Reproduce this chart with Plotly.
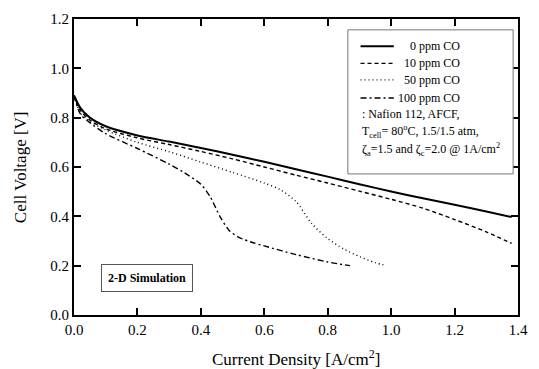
import plotly.graph_objects as go

# ---- data ----
j_0ppm = [0, 0.02, 0.05, 0.1, 0.2, 0.3, 0.4, 0.5, 0.6, 0.7, 0.8, 0.9, 1.0, 1.1, 1.2, 1.3, 1.38]
v_0ppm = [0.89, 0.84, 0.80, 0.765, 0.728, 0.703, 0.677, 0.650, 0.621, 0.591, 0.561, 0.530, 0.501, 0.473, 0.447, 0.420, 0.397]

j_10ppm = [0, 0.02, 0.05, 0.1, 0.2, 0.3, 0.4, 0.5, 0.6, 0.7, 0.8, 0.9, 1.0, 1.1, 1.2, 1.3, 1.38]
v_10ppm = [0.89, 0.83, 0.79, 0.755, 0.718, 0.691, 0.663, 0.633, 0.600, 0.567, 0.535, 0.502, 0.469, 0.433, 0.387, 0.337, 0.290]

j_50ppm = [0, 0.02, 0.05, 0.1, 0.2, 0.3, 0.4, 0.5, 0.6, 0.65, 0.7, 0.75, 0.8, 0.85, 0.9, 0.95, 0.985]
v_50ppm = [0.89, 0.82, 0.785, 0.75, 0.70, 0.662, 0.620, 0.578, 0.535, 0.508, 0.46, 0.37, 0.31, 0.268, 0.237, 0.212, 0.200]

j_100ppm = [0, 0.02, 0.05, 0.1, 0.2, 0.3, 0.35, 0.4, 0.43, 0.46, 0.49, 0.52, 0.56, 0.6, 0.7, 0.8, 0.87]
v_100ppm = [0.89, 0.815, 0.78, 0.735, 0.675, 0.612, 0.575, 0.530, 0.478, 0.40, 0.342, 0.315, 0.295, 0.28, 0.245, 0.215, 0.200]

series_names = ["0 ppm CO", "10 ppm CO", "50 ppm CO", "100 ppm CO"]
x_ticks = [0.0, 0.2, 0.4, 0.6, 0.8, 1.0, 1.2, 1.4]
y_ticks = [0.0, 0.2, 0.4, 0.6, 0.8, 1.0, 1.2]

FONT = "Liberation Serif"
W, H = 539, 369
L, R, T, B = 74, 528, 15, 315


def px(x):
    return (x - L) / (R - L)


def py(y):
    return (B - y) / (B - T)


styles = [
    dict(dash="solid", width=2.0),
    dict(dash="4px,3px", width=1.4),
    dict(dash="1px,3px", width=1.4),
    dict(dash="6px,3px,2px,3px", width=1.4),
]

fig = go.Figure()
for (xs, ys), name, st in zip(
    [(j_0ppm, v_0ppm), (j_10ppm, v_10ppm), (j_50ppm, v_50ppm), (j_100ppm, v_100ppm)],
    series_names, styles):
    fig.add_trace(go.Scatter(x=xs, y=ys, mode="lines", name=name, line_shape="spline",
                             line=dict(color="black", width=st["width"], dash=st["dash"],
                                       smoothing=0.8),
                             showlegend=False))

shapes = []
annotations = []

# legend box
shapes.append(dict(type="rect", xref="paper", yref="paper", x0=px(354), x1=px(523),
                   y0=py(172), y1=py(26), line=dict(color="#777", width=1),
                   fillcolor="white", layer="above"))
rows = [42.7, 60, 76.7, 95]
for yy, name, st in zip(rows, series_names, styles):
    shapes.append(dict(type="line", xref="paper", yref="paper", x0=px(367), x1=px(401),
                       y0=py(yy), y1=py(yy), layer="above",
                       line=dict(color="black", width=st["width"], dash=st["dash"])))
    annotations.append(dict(xref="paper", yref="paper", x=px(471), y=py(yy), text=name,
                            showarrow=False, xanchor="right", yanchor="middle",
                            font=dict(family=FONT, size=12, color="black")))
extra = [": Nafion 112, AFCF,",
         "T<sub>cell</sub>= 80<sup>o</sup>C, 1.5/1.5 atm,",
         "ζ<sub>a</sub>=1.5 and ζ<sub>c</sub>=2.0 @ 1A/cm<sup>2</sup>"]
for yy, t in zip([111.7, 129, 147.5], extra):
    annotations.append(dict(xref="paper", yref="paper", x=px(366), y=py(yy), text=t,
                            showarrow=False, xanchor="left", yanchor="middle",
                            font=dict(family=FONT, size=12, color="black")))

# 2-D Simulation box
annotations.append(dict(xref="paper", yref="paper", x=px(149), y=py(277), text="<b>2-D Simulation</b>",
                        showarrow=False, xanchor="center", yanchor="middle",
                        font=dict(family=FONT, size=12, color="black"),
                        bordercolor="#555", borderwidth=1, borderpad=6, bgcolor="white"))

# axis titles
annotations.append(dict(xref="paper", yref="paper", x=px(301), y=py(359),
                        text="Current Density [A/cm<sup>2</sup>]", showarrow=False,
                        xanchor="center", yanchor="middle",
                        font=dict(family=FONT, size=17, color="black")))
annotations.append(dict(xref="paper", yref="paper", x=px(19), y=py(165),
                        text="Cell Voltage [V]", showarrow=False, textangle=-90,
                        xanchor="center", yanchor="middle",
                        font=dict(family=FONT, size=17, color="black")))

axis_common = dict(showgrid=False, zeroline=False, showline=True, linecolor="black",
                   linewidth=2, mirror="ticks", ticks="inside", ticklen=7, tickwidth=2,
                   tickcolor="black", tickfont=dict(family=FONT, size=15, color="black"))

fig.update_layout(
    width=W, height=H,
    margin=dict(l=L, r=W - R, t=T, b=H - B),
    paper_bgcolor="white", plot_bgcolor="white",
    xaxis=dict(range=[0, 1.4], tickvals=x_ticks, ticktext=[f"{v:.1f}" for v in x_ticks], **axis_common),
    yaxis=dict(range=[0, 1.2], tickvals=y_ticks, ticktext=[f"{v:.1f}" for v in y_ticks], **axis_common),
    shapes=shapes, annotations=annotations,
    font=dict(family=FONT, color="black"),
)

fig.write_html("out.html")
